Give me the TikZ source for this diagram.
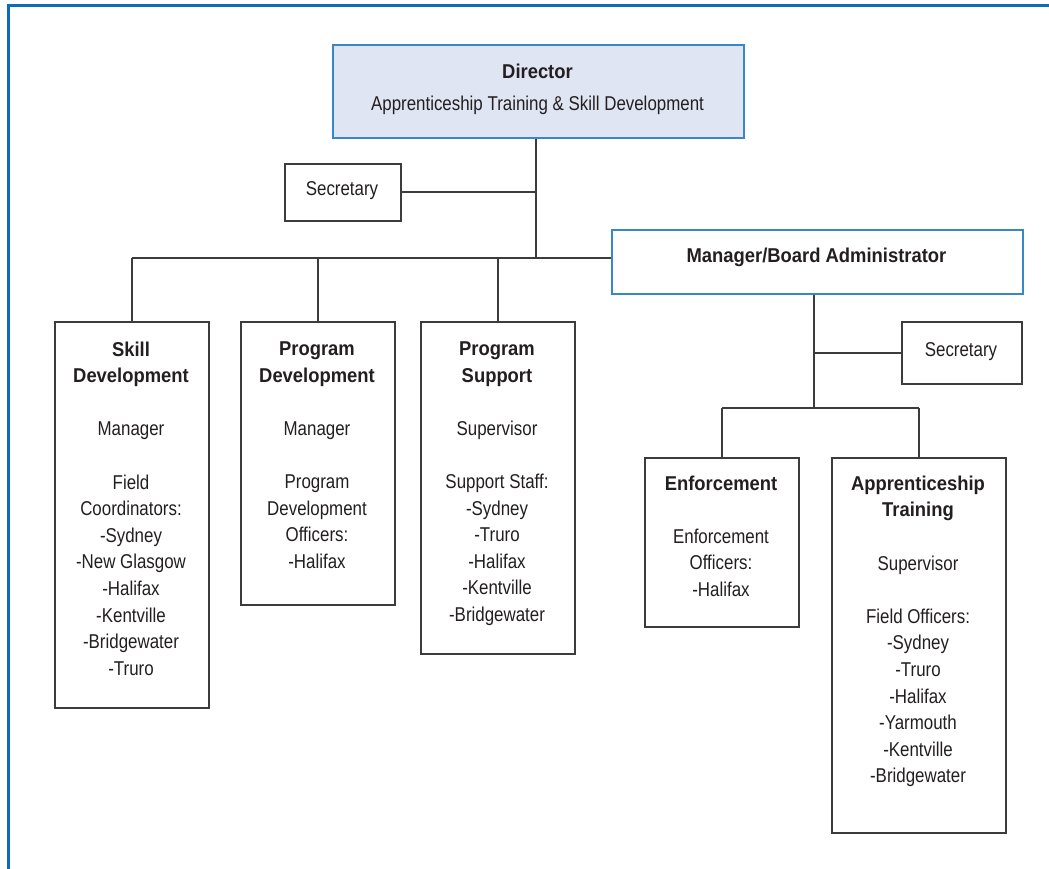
\documentclass[tikz,border=0pt]{standalone}
\usepackage{fontspec}
\setmainfont{Liberation Sans}[FakeStretch=0.845, BoldFeatures={FakeStretch=0.92}]
\definecolor{ink}{HTML}{231F20}
\definecolor{frameblue}{HTML}{0B6DB7}
\definecolor{boxblue}{HTML}{3A87C8}
\definecolor{dirfill}{HTML}{DFE5F3}
\definecolor{lineg}{HTML}{3C3C3C}
\tikzset{
  orgbox/.style={draw=lineg, line width=1.6pt, fill=white, inner sep=0pt, anchor=north west},
  bluebox/.style={draw=boxblue, line width=1.6pt, inner sep=0pt, anchor=north west},
  conn/.style={draw=lineg, line width=1.6pt},
  txt/.style={text=ink, inner sep=0pt, anchor=north, align=center, font=\fontsize{20}{26.6}\selectfont},
}
\begin{document}
\begin{tikzpicture}[x=1pt,y=-1pt]
\useasboundingbox (0,0) rectangle (1049,869);
% frame
\draw[frameblue, line width=3pt] (8,869) -- (8,6) -- (1049,6);
% boxes
\node[bluebox, fill=dirfill, minimum width=411pt, minimum height=93pt] (dir) at (332,44) {};
\node[orgbox, minimum width=116pt, minimum height=57pt] (sec1) at (284,163) {};
\node[bluebox, fill=white, minimum width=411pt, minimum height=64pt] (mba) at (611,229) {};
\node[orgbox, minimum width=154pt, minimum height=386pt] (sd) at (54,321) {};
\node[orgbox, minimum width=154pt, minimum height=283pt] (pd) at (240,321) {};
\node[orgbox, minimum width=154pt, minimum height=332pt] (ps) at (420,321) {};
\node[orgbox, minimum width=120pt, minimum height=62pt] (sec2) at (901,321) {};
\node[orgbox, minimum width=154pt, minimum height=169pt] (enf) at (644,457) {};
\node[orgbox, minimum width=174pt, minimum height=375pt] (at) at (831,457) {};
% junction coordinates
\coordinate (hbar) at (536,258);
\coordinate (hbarb) at (814,408);
% connectors
\draw[conn] (hbar |- dir.south) -- (hbar);
\draw[conn] (sec1.east) -- (sec1.east -| hbar);
\draw[conn] (sd.north |- hbar) -- (mba.west |- hbar);
\draw[conn] (sd.north) -- (sd.north |- hbar);
\draw[conn] (pd.north) -- (pd.north |- hbar);
\draw[conn] (ps.north) -- (ps.north |- hbar);
\draw[conn] (hbarb |- mba.south) -- (hbarb);
\draw[conn] (sec2.west) -- (sec2.west -| hbarb);
\draw[conn] (enf.north |- hbarb) -- (at.north |- hbarb);
\draw[conn] (enf.north) -- (enf.north |- hbarb);
\draw[conn] (at.north) -- (at.north |- hbarb);
% texts
\node[txt, font=\fontsize{20}{32}\selectfont] (dirt) at (537.5,63.5) {\textbf{Director}\\Apprenticeship Training \& Skill Development};
\node[txt, anchor=base] (sec1t) at (342,196) {Secretary};
\node[txt, anchor=base] (mbat) at (816.5,262) {\textbf{Manager/Board Administrator}};
\node[txt, anchor=base] (sec2t) at (961,356) {Secretary};
\node[txt] (sdt) at (131,341.5) {\textbf{Skill}\\\textbf{Development}\\[26.6pt]Manager\\[26.6pt]Field\\Coordinators:\\-Sydney\\-New Glasgow\\-Halifax\\-Kentville\\-Bridgewater\\-Truro};
\node[txt] (pdt) at (317,341.5) {\textbf{Program}\\\textbf{Development}\\[26.6pt]Manager\\[26.6pt]Program\\Development\\Officers:\\-Halifax};
\node[txt] (pst) at (497,341.5) {\textbf{Program}\\\textbf{Support}\\[26.6pt]Supervisor\\[26.6pt]Support Staff:\\-Sydney\\-Truro\\-Halifax\\-Kentville\\-Bridgewater};
\node[txt] (enft) at (721,475.5) {\textbf{Enforcement}\\[26.6pt]Enforcement\\Officers:\\-Halifax};
\node[txt] (att) at (918,475.5) {\textbf{Apprenticeship}\\\textbf{Training}\\[26.6pt]Supervisor\\[26.6pt]Field Officers:\\-Sydney\\-Truro\\-Halifax\\-Yarmouth\\-Kentville\\-Bridgewater};
\end{tikzpicture}
\end{document}
